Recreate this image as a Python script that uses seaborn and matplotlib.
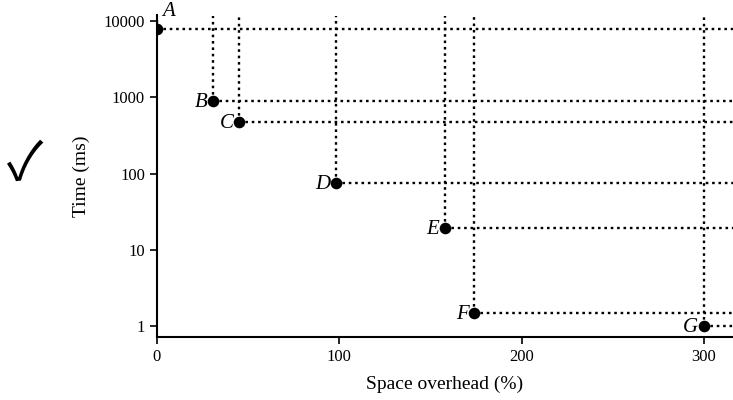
"""
Time vs space overhead trade-off, log-scaled time axis.
"""

import matplotlib.pyplot as plt
import pandas as pd
import seaborn as sns

labels = ["A", "B", "C", "D", "E", "F", "G"]
overhead = [0, 31, 45, 98, 158, 174, 300]
time_ms = [7800, 900, 470, 76, 19.5, 1.5, 1.0]

x_ticks = [0, 100, 200, 300]
y_ticks = [1, 10, 100, 1000, 10000]
y_tick_labels = ["1", "10", "100", "1000", "10000"]

X_MAX = 316
Y_MIN, Y_MAX = 0.72, 12000


def make_chart():
    df = pd.DataFrame({"label": labels, "overhead": overhead, "time": time_ms})

    sns.set_style("ticks", {"axes.edgecolor": "black", "text.color": "black",
                            "axes.labelcolor": "black", "xtick.color": "black",
                            "ytick.color": "black"})
    plt.rcParams["font.family"] = ["Liberation Serif", "DejaVu Serif"]

    fig = plt.figure(figsize=(7.33, 4.0), dpi=100)
    ax = fig.add_axes([0.214, 0.1575, 0.786, 0.805])

    dotted = dict(color="black", linewidth=1.7, linestyle=(0, (1.1, 1.6)), zorder=1)
    for _, row in df.iterrows():
        ax.vlines(row["overhead"], row["time"], Y_MAX * 0.98, **dotted)
        ax.hlines(row["time"], row["overhead"], X_MAX, **dotted)

    sns.scatterplot(
        data=df, x="overhead", y="time", ax=ax, color="black",
        s=70, edgecolor="black", linewidth=0, zorder=3,
    )

    for _, row in df.iterrows():
        if row["label"] == "A":
            ax.annotate("A", (row["overhead"], row["time"]), xytext=(4, 6),
                        textcoords="offset points", fontsize=15, style="italic",
                        ha="left", va="bottom")
        else:
            ax.annotate(row["label"], (row["overhead"], row["time"]), xytext=(-4, -1),
                        textcoords="offset points", fontsize=15, style="italic",
                        ha="right", va="center")

    ax.set_yscale("log")
    ax.set_xlim(0, X_MAX)
    ax.set_ylim(Y_MIN, Y_MAX)
    ax.set_xticks(x_ticks)
    ax.set_yticks(y_ticks)
    ax.set_yticklabels(y_tick_labels)
    ax.minorticks_off()
    ax.tick_params(axis="both", labelsize=12, length=5, width=1.2, direction="out")
    ax.set_xlabel("Space overhead (%)", fontsize=14, labelpad=8)
    ax.set_ylabel("Time (ms)", fontsize=14, labelpad=10)
    for side in ["left", "bottom"]:
        ax.spines[side].set_linewidth(1.5)
    sns.despine(ax=ax)

    fig.text(0.034, 0.59, "\u2713", fontsize=38,
             family=["Noto Sans CJK SC", "DejaVu Sans"],
             ha="center", va="center")

    fig.savefig("out.png", dpi=100)


if __name__ == "__main__":
    make_chart()
